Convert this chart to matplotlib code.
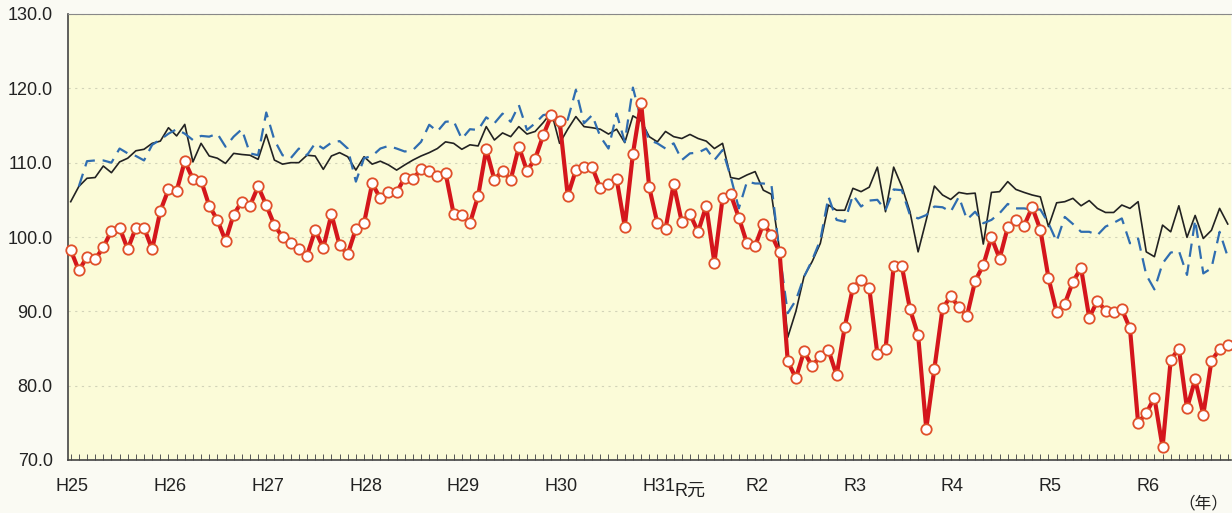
import numpy as np
import matplotlib
matplotlib.use("Agg")
import matplotlib.pyplot as plt
import matplotlib.transforms as mtransforms

plt.rcParams['font.family'] = ['Liberation Sans', 'Noto Sans CJK JP', 'DejaVu Sans']

# monthly index, H25.1 - R6.11
red_vals = [98.25, 95.5, 97.3, 97.0, 98.6, 100.85, 101.25, 98.35, 101.25, 101.25, 98.35, 103.5,
            106.4, 106.2, 110.2, 107.8, 107.6, 104.2, 102.3, 99.5, 103.0, 104.75, 104.2, 106.8,
            104.3, 101.6, 100.0, 99.15, 98.35, 97.5, 100.9, 98.55, 103.05, 98.9, 97.7, 101.1,
            101.85, 107.2, 105.2, 106.0, 106.0, 108.0, 107.8, 109.1, 108.9, 108.25, 108.65, 103.1,
            102.9, 101.85, 105.5, 111.8, 107.7, 108.9, 107.7, 112.15, 108.9, 110.5, 113.7, 116.4,
            115.65, 105.55, 109.0, 109.45, 109.4, 106.55, 107.1, 107.8, 101.4, 111.2, 118.07, 106.7,
            101.85, 101.1, 107.1, 102.0, 103.1, 100.7, 104.2, 96.55, 105.2, 105.75, 102.6, 99.15,
            98.8, 101.75, 100.3, 97.95, 83.3, 81.0, 84.6, 82.6, 84.0, 84.8, 81.4, 87.9,
            93.2, 94.2, 93.2, 84.25, 84.9, 96.1, 96.1, 90.3, 86.8, 74.2, 82.3, 90.4,
            92.0, 90.6, 89.4, 94.1, 96.2, 99.95, 97.1, 101.3, 102.3, 101.5, 104.0, 101.0,
            94.5, 89.9, 91.0, 94.0, 95.8, 89.15, 91.4, 90.1, 89.9, 90.3, 87.7, 75.0,
            76.3, 78.4, 71.7, 83.45, 85.0, 76.95, 80.85, 76.1, 83.35, 84.9, 85.5]

black_vals = [104.75, 106.8, 107.9, 108.0, 109.55, 108.65, 110.1, 110.6, 111.6, 111.8, 112.6, 112.9,
              114.7, 113.6, 115.15, 110.1, 112.6, 110.9, 110.6, 109.9, 111.25, 111.1, 111.0, 110.45,
              113.8, 110.35, 109.8, 110.0, 110.0, 111.0, 110.9, 109.1, 110.9, 111.35, 110.8, 109.0,
              110.8, 109.8, 110.2, 109.7, 109.0, 109.7, 110.35, 110.9, 111.35, 111.9, 112.8, 112.6,
              111.8, 112.4, 112.25, 114.85, 113.05, 114.0, 113.5, 114.85, 113.85, 114.2, 115.4, 116.8,
              112.6, 114.5, 116.2, 114.85, 114.7, 114.5, 113.85, 114.5, 112.7, 116.3, 115.65, 113.5,
              112.8, 114.2, 113.5, 113.25, 113.8, 113.25, 112.9, 111.9, 112.6, 108.0, 107.8, 108.35,
              108.8, 106.3, 105.75, 98.25, 86.5, 90.0, 94.7, 96.7, 99.15, 104.3, 103.6, 103.6,
              106.55, 106.1, 106.7, 109.4, 103.4, 109.4, 106.8, 103.4, 98.0, 102.3, 106.85, 105.65,
              105.05, 106.0, 105.8, 105.9, 99.05, 106.0, 106.1, 107.45, 106.4, 106.0, 105.65, 105.4,
              101.4, 104.6, 104.75, 105.2, 104.2, 104.9, 103.85, 103.3, 103.3, 104.3, 103.85, 104.75,
              98.0, 97.35, 101.6, 100.7, 104.2, 99.95, 102.9, 99.8, 100.9, 103.85, 101.75]

blue_vals = [np.nan, 106.8, 110.2, 110.3, 110.3, 110.0, 111.9, 111.25, 110.9, 110.3, 112.4, 113.1,
             113.9, 114.5, 113.9, 113.05, 113.6, 113.5, 113.9, 112.15, 113.5, 114.5, 111.25, 111.0,
             116.75, 113.05, 111.0, 110.6, 111.9, 111.0, 112.6, 111.9, 112.7, 112.9, 111.9, 107.45,
             110.6, 110.9, 111.9, 112.25, 111.9, 111.5, 111.7, 112.8, 115.1, 114.2, 115.5, 115.6,
             113.2, 114.5, 114.4, 116.1, 115.3, 116.6, 115.5, 117.75, 114.4, 115.3, 116.4, 116.6,
             114.6, 115.8, 119.8, 115.3, 116.4, 113.5, 111.9, 116.6, 112.8, 120.1, 115.8, 113.05,
             112.6, 111.9, 112.6, 110.35, 111.25, 111.35, 111.9, 110.35, 111.7, 108.1, 103.85, 107.45,
             107.2, 107.2, 107.0, 97.8, 89.75, 91.5, 94.65, 96.9, 99.6, 105.4, 102.3, 102.05,
             105.65, 104.1, 104.9, 105.0, 103.6, 106.4, 106.3, 102.95, 102.5, 102.95, 104.1, 104.0,
             103.4, 105.4, 102.35, 103.4, 101.85, 102.3, 103.2, 104.45, 103.85, 103.85, 103.7, 103.7,
             101.85, 99.4, 102.7, 101.75, 100.7, 100.7, 100.25, 101.4, 101.9, 102.5, 99.15, 99.8,
             94.9, 92.95, 96.45, 97.9, 98.15, 94.9, 102.3, 95.1, 95.8, 100.7, 97.35]

year_labels = ['H25', 'H26', 'H27', 'H28', 'H29', 'H30', 'H31', 'R2', 'R3', 'R4', 'R5', 'R6']
year_pos = [0, 12, 24, 36, 48, 60, 72, 84, 96, 108, 120, 132]

x = np.arange(len(red_vals))

fig = plt.figure(figsize=(12.32, 5.13), dpi=100)
fig.patch.set_facecolor('#fafaf3')
ax = fig.add_axes([68/1232, 1 - 460/513, 1163/1232, 446/513])
ax.set_facecolor('#fbfbd8')

ax.plot(x, black_vals, color='#222222', lw=1.2, zorder=3)
ax.plot(x, blue_vals, color='#2f6db0', lw=1.6, dashes=(6, 3.5), zorder=4)
ax.plot(x, red_vals, color='#d4161c', lw=3.0, marker='o', ms=7.5,
        mfc='white', mec='#e0502a', mew=1.3, zorder=5, clip_on=False)

ax.set_xlim(-0.33, 142.4)
ax.set_ylim(70, 130)
ax.set_yticks(np.arange(70, 131, 10))
ax.set_yticklabels([f"{v:.1f}" for v in np.arange(70, 131, 10)], fontsize=13, color='#222222')
ax.yaxis.grid(True, color='#d2d3b8', lw=0.8, ls=(0, (2, 4)))
ax.set_axisbelow(True)
ax.tick_params(axis='y', length=0, pad=11)

# month ticks on the bottom axis
ax.set_xticks(x)
ax.set_xticklabels([])
ax.tick_params(axis='x', direction='in', length=4, width=0.7, color='#555555')

trans = mtransforms.blended_transform_factory(ax.transData, ax.transAxes)
for p, lab in zip(year_pos, year_labels):
    ax.text(p + 0.2, -0.04, lab, transform=trans, ha='center', va='top', fontsize=13, color='#222222')
ax.text(76.0, -0.052, 'R元', transform=trans, ha='center', va='top', fontsize=13, color='#222222')
fig.text(1203/1232, 1 - 503/513, '（年）', ha='center', va='center', fontsize=12, color='#222222')

for side in ['left', 'bottom']:
    ax.spines[side].set_color('#444444')
    ax.spines[side].set_linewidth(1.2)
ax.spines['top'].set_color('#888888')
ax.spines['right'].set_visible(False)

plt.savefig('out.png', dpi=100, facecolor=fig.get_facecolor())
